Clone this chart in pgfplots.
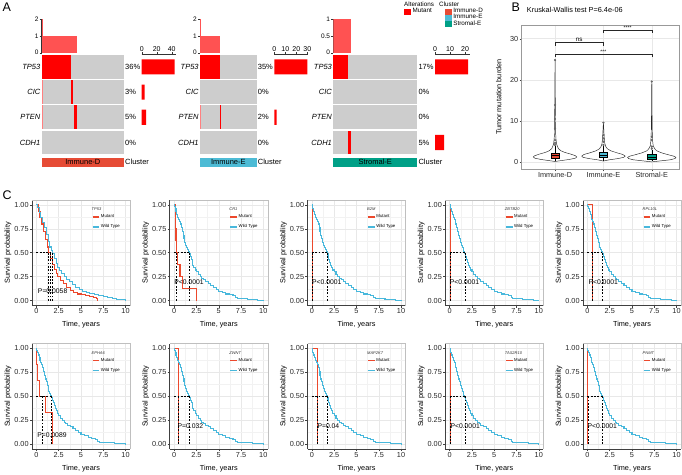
\documentclass[border=0pt]{standalone}
\usepackage{fontspec}
\setmainfont{Liberation Sans}
\usepackage{pgfplots}
\usepackage{pgfplotstable}
\pgfplotsset{compat=1.18}
\usepgfplotslibrary{statistics}
\definecolor{kmred}{RGB}{236,72,44}
\definecolor{kmblue}{RGB}{72,184,220}
\definecolor{cD}{HTML}{E64B35}
\definecolor{cE}{HTML}{4DBBD5}
\definecolor{cS}{HTML}{00A087}
\definecolor{hgray}{HTML}{CDCDCD}
\definecolor{mred}{HTML}{FF0000}
\newcommand{\fs}[1]{\fontsize{#1}{#1}\selectfont}

\pgfplotstableread{
t s
0 1
0.05 0.98
0.1 0.96
0.2 0.93
0.3 0.90
0.4 0.87
0.5 0.85
0.6 0.83
0.7 0.80
0.8 0.76
0.9 0.72
1.0 0.68
1.1 0.65
1.2 0.61
1.3 0.58
1.4 0.55
1.5 0.53
1.6 0.51
1.7 0.49
1.8 0.46
1.9 0.43
2.0 0.40
2.1 0.37
2.2 0.35
2.35 0.32
2.5 0.30
2.7 0.27
2.9 0.25
3.1 0.23
3.3 0.22
3.5 0.20
3.8 0.18
4.1 0.16
4.4 0.14
4.7 0.12
5.0 0.10
5.4 0.09
5.8 0.07
6.2 0.06
6.6 0.05
6.9 0.03
7.1 0.02
7.6 0.02
8.2 0.015
8.8 0.01
9.4 0.005
10.0 0.0
}\blueall

\pgfplotstableread{
t s
0 1
0.1 0.97
0.3 0.92
0.5 0.87
0.7 0.82
0.9 0.76
1.1 0.69
1.3 0.62
1.5 0.56
1.7 0.52
1.8 0.49
2.0 0.44
2.2 0.39
2.4 0.35
2.6 0.31
2.8 0.28
3.1 0.25
3.4 0.22
3.7 0.20
4.0 0.17
4.4 0.14
4.8 0.12
5.2 0.10
5.6 0.09
6.0 0.08
6.5 0.06
7.0 0.05
7.5 0.04
8.0 0.03
8.5 0.02
9.0 0.015
9.5 0.01
10 0
}\bluetp

\pgfplotsset{
 every axis/.append style={/pgf/number format/assume math mode=true},
 km/.style={scale only axis, width=98pt, height=105.5pt, anchor=south west,
  xmin=-0.5, xmax=10.5, ymin=-0.05, ymax=1.05,
  xtick={0,2.5,5,7.5,10}, xticklabels={0,2.5,5,7.5,10},
  ytick={0,0.25,0.5,0.75,1}, yticklabels={0.00,0.25,0.50,0.75,1.00},
  minor xtick={1.25,3.75,6.25,8.75}, minor ytick={0.125,0.375,0.625,0.875},
  grid=both, major grid style={black!9, line width=0.5pt}, minor grid style={black!5, line width=0.35pt},
  axis x line*=bottom, axis y line*=left, axis line style={black!75, line width=0.6pt},
  tick style={black!75, line width=0.5pt}, tick align=outside, major tick length=2.2pt, minor tick length=0pt,
  tick label style={font=\fs{7.3}, text=black!85, inner sep=1pt},
  xlabel={Time, years}, ylabel={Survival probability},
  label style={font=\fs{7.3}},
  xlabel style={at={(axis description cs:0.5,-0.185)}, anchor=center},
  ylabel style={at={(axis description cs:-0.245,0.5)}, anchor=center},
  legend image code/.code={\draw[#1, line width=1.4pt] (0pt,0pt) -- (6.8pt,0pt);},
  legend style={at={(0.61,0.87)}, anchor=north west, draw=none, fill=none, font=\fs{4.3}, inner sep=0pt, row sep=3.8pt, nodes={inner sep=0.8pt}},
  legend cell align=left,
  clip=false,
  after end axis/.code={\draw[black!25, line width=0.4pt] (rel axis cs:0,1) -- (rel axis cs:1,1) -- (rel axis cs:1,0);}
 },
 med/.style={forget plot, black, line width=0.55pt, dash pattern=on 1.8pt off 1.5pt},
 hm/.style={scale only axis, height=112.4pt, ymin=-0.46, ymax=4, xmin=0, anchor=south west,
  axis x line=none, axis y line*=left, y axis line style={draw=none}, major tick length=0pt,
  ytick={0.5,1.5,2.5,3.5}, yticklabels={CDH1,PTEN,CIC,TP53},
  yticklabel style={font=\fs{7.5}\itshape, inner sep=1.2pt}, clip=false},
 topbar/.style={scale only axis, height=33.7pt, ymin=0, xmin=0, anchor=south west,
  axis x line=none, axis y line*=left, y axis line style={black!80, line width=0.5pt},
  ytick style={black!80}, tick align=outside, major tick length=2pt,
  yticklabel style={font=\fs{6.5}, inner sep=1pt}},
 rbar/.style={scale only axis, height=112.4pt, width=34.5pt, ymin=-0.46, ymax=4, xmin=0, anchor=south west,
  axis y line=none, axis x line*=top, x axis line style={black!80, line width=0.5pt},
  xtick style={black!80}, tick align=outside, major tick length=2pt,
  xticklabel style={font=\fs{7}, inner sep=1pt}},
}

% #1 x, #2 y, #3 gene, #4 red coords, #5 blue table, #6 median lines, #7 px, #8 py, #9 ptext
\newcommand{\kmpanel}[9]{%
\begin{axis}[km, at={(#1pt,#2pt)}]
\addplot[const plot, kmred, line width=1.05pt] coordinates {#4};
\addlegendentry{Mutant}
\addplot[const plot, kmblue, line width=1.05pt] table[x=t,y=s] {#5};
\addlegendentry{Wild Type}
#6
\node[anchor=west, font=\fs{6.8}, inner sep=0pt] at (axis cs:#7,#8) {#9};
\node[anchor=base west, font=\fs{4}\itshape, inner sep=0pt, text=black!80] at (rel axis cs:0.607,0.9) {#3};
\end{axis}}

\begin{document}
\begin{tikzpicture}
\path[use as bounding box] (0,0) rectangle (682pt,474pt);

\node[anchor=base west, font=\fs{12.5}, inner sep=0] at (2.5pt,462.3pt) {A};
\node[anchor=base west, font=\fs{12.5}, inner sep=0] at (511.5pt,462.3pt) {B};
\node[anchor=base west, font=\fs{12.5}, inner sep=0] at (2.5pt,274pt) {C};

%================ Panel A : oncoplot 1 =================
\begin{axis}[topbar, width=82.3pt, at={(41.7pt,421.3pt)}, xmax=122, ymax=2, ytick={0,1,2}]
\addplot[fill=red!68, draw=none] coordinates {(0,0)(52.5,0)(52.5,1)(0,1)};
\addplot[fill=red!68, draw=none] coordinates {(0,0)(1,0)(1,2)(0,2)};
\end{axis}
\begin{axis}[hm, width=82.3pt, at={(41.7pt,307.3pt)}, xmax=122]
\addplot[fill=hgray, draw=none] coordinates {(0,3.025)(122,3.025)(122,3.975)(0,3.975)};
\addplot[fill=hgray, draw=none] coordinates {(0,2.025)(122,2.025)(122,2.975)(0,2.975)};
\addplot[fill=hgray, draw=none] coordinates {(0,1.025)(122,1.025)(122,1.975)(0,1.975)};
\addplot[fill=hgray, draw=none] coordinates {(0,0.025)(122,0.025)(122,0.975)(0,0.975)};
\addplot[fill=mred, draw=none] coordinates {(0,3.025)(44,3.025)(44,3.975)(0,3.975)};
\addplot[fill=mred, draw=none] coordinates {(44,2.025)(47,2.025)(47,2.975)(44,2.975)};
\addplot[fill=red!50, draw=none] coordinates {(0,2.025)(1,2.025)(1,2.975)(0,2.975)};
\addplot[fill=mred, draw=none] coordinates {(47.5,1.025)(52.5,1.025)(52.5,1.975)(47.5,1.975)};
\addplot[fill=red!50, draw=none] coordinates {(0,1.025)(1,1.025)(1,1.975)(0,1.975)};
\addplot[fill=cD, draw=none] coordinates {(0,-0.46)(122,-0.46)(122,-0.11)(0,-0.11)};
\node[font=\fs{7.5}, inner sep=0] at (axis cs:61,-0.285) {Immune-D};
\node[anchor=west, font=\fs{7.5}, inner sep=1pt] at (axis cs:122,-0.285) {Cluster};
\node[anchor=west, font=\fs{7.5}, inner sep=1pt] at (axis cs:122,3.5) {36\%};
\node[anchor=west, font=\fs{7.5}, inner sep=1pt] at (axis cs:122,2.5) {3\%};
\node[anchor=west, font=\fs{7.5}, inner sep=1pt] at (axis cs:122,1.5) {5\%};
\node[anchor=west, font=\fs{7.5}, inner sep=1pt] at (axis cs:122,0.5) {0\%};
\end{axis}
\begin{axis}[rbar, at={(141.7pt,307.3pt)}, xmax=46, xtick={0,20,40}]
\addplot[xbar, fill=mred, draw=none, bar width=0.6] coordinates {(44,3.5) (4,2.5) (6,1.5)};
\end{axis}

%================ oncoplot 2 =================
\begin{axis}[topbar, width=56.7pt, at={(200pt,421.3pt)}, xmax=86, ymax=2, ytick={0,1,2}]
\addplot[fill=red!68, draw=none] coordinates {(0,0)(31,0)(31,1)(0,1)};
\addplot[fill=red!68, draw=none] coordinates {(0,0)(1,0)(1,2)(0,2)};
\end{axis}
\begin{axis}[hm, width=56.7pt, at={(200pt,307.3pt)}, xmax=86]
\addplot[fill=hgray, draw=none] coordinates {(0,3.025)(86,3.025)(86,3.975)(0,3.975)};
\addplot[fill=hgray, draw=none] coordinates {(0,2.025)(86,2.025)(86,2.975)(0,2.975)};
\addplot[fill=hgray, draw=none] coordinates {(0,1.025)(86,1.025)(86,1.975)(0,1.975)};
\addplot[fill=hgray, draw=none] coordinates {(0,0.025)(86,0.025)(86,0.975)(0,0.975)};
\addplot[fill=mred, draw=none] coordinates {(0,3.025)(30,3.025)(30,3.975)(0,3.975)};
\addplot[fill=mred, draw=none] coordinates {(30,1.025)(31,1.025)(31,1.975)(30,1.975)};
\addplot[fill=red!50, draw=none] coordinates {(0,1.025)(1,1.025)(1,1.975)(0,1.975)};
\addplot[fill=cE, draw=none] coordinates {(0,-0.46)(86,-0.46)(86,-0.11)(0,-0.11)};
\node[font=\fs{7.5}, inner sep=0] at (axis cs:43,-0.285) {Immune-E};
\node[anchor=west, font=\fs{7.5}, inner sep=1pt] at (axis cs:86,-0.285) {Cluster};
\node[anchor=west, font=\fs{7.5}, inner sep=1pt] at (axis cs:86,3.5) {35\%};
\node[anchor=west, font=\fs{7.5}, inner sep=1pt] at (axis cs:86,2.5) {0\%};
\node[anchor=west, font=\fs{7.5}, inner sep=1pt] at (axis cs:86,1.5) {2\%};
\node[anchor=west, font=\fs{7.5}, inner sep=1pt] at (axis cs:86,0.5) {0\%};
\end{axis}
\begin{axis}[rbar, width=34.1pt, at={(274.3pt,307.3pt)}, xmax=31, xtick={0,10,20,30}]
\addplot[xbar, fill=mred, draw=none, bar width=0.6] coordinates {(30,3.5) (2,1.5)};
\end{axis}

%================ oncoplot 3 =================
\begin{axis}[topbar, width=84pt, at={(333.3pt,421.3pt)}, xmax=130, ymax=1, ytick={0,0.5,1}, yticklabels={0,0.5,1}]
\addplot[fill=red!68, draw=none] coordinates {(0,0)(28,0)(28,1)(0,1)};
\end{axis}
\begin{axis}[hm, width=84pt, at={(333.3pt,307.3pt)}, xmax=130]
\addplot[fill=hgray, draw=none] coordinates {(0,3.025)(130,3.025)(130,3.975)(0,3.975)};
\addplot[fill=hgray, draw=none] coordinates {(0,2.025)(130,2.025)(130,2.975)(0,2.975)};
\addplot[fill=hgray, draw=none] coordinates {(0,1.025)(130,1.025)(130,1.975)(0,1.975)};
\addplot[fill=hgray, draw=none] coordinates {(0,0.025)(130,0.025)(130,0.975)(0,0.975)};
\addplot[fill=mred, draw=none] coordinates {(0,3.025)(22,3.025)(22,3.975)(0,3.975)};
\addplot[fill=mred, draw=none] coordinates {(22,0.025)(28,0.025)(28,0.975)(22,0.975)};
\addplot[fill=cS, draw=none] coordinates {(0,-0.46)(130,-0.46)(130,-0.11)(0,-0.11)};
\node[font=\fs{7.5}, inner sep=0] at (axis cs:65,-0.285) {Stromal-E};
\node[anchor=west, font=\fs{7.5}, inner sep=1pt] at (axis cs:130,-0.285) {Cluster};
\node[anchor=west, font=\fs{7.5}, inner sep=1pt] at (axis cs:130,3.5) {17\%};
\node[anchor=west, font=\fs{7.5}, inner sep=1pt] at (axis cs:130,2.5) {0\%};
\node[anchor=west, font=\fs{7.5}, inner sep=1pt] at (axis cs:130,1.5) {0\%};
\node[anchor=west, font=\fs{7.5}, inner sep=1pt] at (axis cs:130,0.5) {5\%};
\end{axis}
\begin{axis}[rbar, at={(435pt,307.3pt)}, xmax=23, xtick={0,10,20}]
\addplot[xbar, fill=mred, draw=none, bar width=0.6] coordinates {(22,3.5) (6,0.5)};
\end{axis}

% legends of A
\node[anchor=west, font=\fs{6.3}, inner sep=0] at (404pt,470pt) {Alterations};
\begin{axis}[hide axis, scale only axis, width=1pt, height=1pt, at={(404pt,466pt)}, anchor=north west,
  xmin=0,xmax=1,ymin=0,ymax=1,
  legend style={at={(0,1)}, anchor=north west, draw=none, fill=none, font=\fs{6.3}, inner sep=0pt, nodes={inner sep=0.3pt}, row sep=0.3pt},
  legend cell align=left]
\addlegendimage{legend image code/.code={\fill[mred] (0pt,-2.6pt) rectangle (6pt,2.6pt); \path (7.6pt,0pt);}}
\addlegendentry{Mutant}
\end{axis}
\node[anchor=west, font=\fs{6.3}, inner sep=0] at (439pt,470pt) {Cluster};
\begin{axis}[hide axis, scale only axis, width=1pt, height=1pt, at={(445pt,466pt)}, anchor=north west,
  xmin=0,xmax=1,ymin=0,ymax=1,
  legend style={at={(0,1)}, anchor=north west, draw=none, fill=none, font=\fs{6.3}, inner sep=0pt, nodes={inner sep=0.2pt}, row sep=0pt},
  legend cell align=left]
\addlegendimage{legend image code/.code={\fill[cD] (0pt,-2.5pt) rectangle (6pt,2.5pt); \path (7.6pt,0pt);}}
\addlegendentry{Immune-D}
\addlegendimage{legend image code/.code={\fill[cE] (0pt,-2.5pt) rectangle (6pt,2.5pt); \path (7.6pt,0pt);}}
\addlegendentry{Immune-E}
\addlegendimage{legend image code/.code={\fill[cS] (0pt,-2.5pt) rectangle (6pt,2.5pt); \path (7.6pt,0pt);}}
\addlegendentry{Stromal-E}
\end{axis}

%================ Panel B =================
\begin{axis}[scale only axis, width=157.6pt, height=144.3pt, at={(521.7pt,304.7pt)}, anchor=south west,
  xmin=0.31, xmax=3.57, ymin=-1.7, ymax=33.3,
  boxplot/draw direction=y,
  xtick={1,2,3}, xticklabels={Immune-D,Immune-E,Stromal-E}, ytick={0,10,20,30},
  grid=major, major grid style={black!9, line width=0.5pt},
  axis line style={black!40, line width=0.5pt}, tick pos=left, tick align=outside, major tick length=2.2pt,
  tick style={black!75},
  tick label style={font=\fs{7.3}, text=black!85, inner sep=1pt},
  ylabel={Tumor mutation burden}, ylabel style={at={(axis description cs:-0.146,0.5)}, anchor=center, font=\fs{7.3}},
  title={Kruskal-Wallis test P=6.4e-06}, title style={at={(axis description cs:0.032,1.064)}, anchor=west, font=\fs{7.3}, inner sep=0pt},
  clip=false]
\addplot[draw=black!85, fill=white, line width=0.45pt] coordinates {(1,0.2)(1.12,0.4)(1.3,0.7)(1.42,1.0)(1.45,1.3)(1.42,1.6)(1.32,2.0)(1.2,2.4)(1.12,2.8)(1.07,3.3)(1.05,3.8)(1.03,4.5)(1.02,5.5)(1.012,7)(1.01,9)(1.008,12)(1.004,16)(1.003,20)(1,24.8)(0.997,20)(0.996,16)(0.992,12)(0.99,9)(0.988,7)(0.98,5.5)(0.97,4.5)(0.95,3.8)(0.93,3.3)(0.88,2.8)(0.8,2.4)(0.68,2.0)(0.58,1.6)(0.55,1.3)(0.58,1.0)(0.7,0.7)(0.88,0.4)(1,0.2)};
\addplot[draw=black!85, fill=white, line width=0.45pt] coordinates {(2,0.3)(2.12,0.6)(2.3,0.9)(2.42,1.2)(2.45,1.5)(2.4,1.9)(2.28,2.3)(2.15,2.8)(2.08,3.3)(2.05,3.8)(2.03,4.5)(2.02,5.5)(2.012,7)(2.006,8.5)(2,9.6)(1.994,8.5)(1.988,7)(1.98,5.5)(1.97,4.5)(1.95,3.8)(1.92,3.3)(1.85,2.8)(1.72,2.3)(1.6,1.9)(1.55,1.5)(1.58,1.2)(1.7,0.9)(1.88,0.6)(2,0.3)};
\addplot[draw=black!85, fill=white, line width=0.45pt] coordinates {(3,0.1)(3.15,0.3)(3.38,0.6)(3.48,0.9)(3.5,1.2)(3.45,1.5)(3.32,1.9)(3.2,2.3)(3.1,2.8)(3.06,3.3)(3.03,4)(3.02,5)(3.012,6.5)(3.008,9)(3.005,12)(3.003,16)(3,19.6)(2.997,16)(2.995,12)(2.992,9)(2.988,6.5)(2.98,5)(2.97,4)(2.94,3.3)(2.9,2.8)(2.8,2.3)(2.68,1.9)(2.55,1.5)(2.5,1.2)(2.52,0.9)(2.62,0.6)(2.85,0.3)(3,0.1)};
\addplot[boxplot prepared={lower whisker=0.3, lower quartile=1.0, median=1.6, upper quartile=2.2, upper whisker=3.9, draw position=1, box extend=0.17, whisker extend=0}, fill=cD, draw=black, line width=0.45pt, solid] coordinates {};
\addplot[boxplot prepared={lower whisker=0.4, lower quartile=1.2, median=1.75, upper quartile=2.35, upper whisker=4.0, draw position=2, box extend=0.17, whisker extend=0}, fill=cE, draw=black, line width=0.45pt, solid] coordinates {};
\addplot[boxplot prepared={lower whisker=0.2, lower quartile=0.8, median=1.3, upper quartile=1.85, upper whisker=3.0, draw position=3, box extend=0.17, whisker extend=0}, fill=cS, draw=black, line width=0.45pt, solid] coordinates {};
\addplot[only marks, mark=*, mark size=0.9pt, black!60] coordinates {(1,24.8)(1,13.9)(1,10.5)(1,8.2)(1,5.4)(1,4.7)(1,4.2)(2,9.6)(2,6.6)(2,5.8)(2,5.0)(2,4.2)(3,19.6)(3,6.2)(3,5.4)(3,3.8)(3,3.3)};
\addplot[black!85, line width=0.4pt] coordinates {(1,28.3)(1,29.1)(2,29.1)(2,28.3)};
\addplot[black!85, line width=0.4pt] coordinates {(2,31.3)(2,32.1)(3,32.1)(3,31.3)};
\addplot[black!85, line width=0.4pt] coordinates {(1,25.6)(1,26.3)(3,26.3)(3,25.6)};
\node[anchor=south, font=\fs{6.3}, inner sep=0.8pt] at (axis cs:1.5,29.1) {ns};
\node[anchor=south, font=\fs{5}, inner sep=0.5pt] at (axis cs:2.5,32.1) {****};
\node[anchor=south, font=\fs{5}, inner sep=0.5pt] at (axis cs:2,26.3) {***};
\end{axis}

%================ Panel C : row 1 =================
\kmpanel{32}{168.5}{TP53}{(0,1)(0.2,0.93)(0.4,0.87)(0.6,0.80)(0.8,0.72)(1.0,0.64)(1.2,0.56)(1.35,0.50)(1.6,0.44)(1.8,0.38)(2.0,0.33)(2.2,0.28)(2.4,0.25)(2.7,0.21)(3.0,0.18)(3.4,0.14)(3.8,0.11)(4.2,0.09)(4.6,0.07)(5.0,0.06)(5.5,0.05)(6.0,0.04)(6.4,0.03)(6.7,0.02)(6.9,0.0)}{\bluetp}
{\addplot[med] coordinates {(0,0.5)(1.8,0.5)};
 \addplot[med] coordinates {(1.35,0)(1.35,0.5)};
 \addplot[med] coordinates {(1.6,0)(1.6,0.5)};
 \addplot[med] coordinates {(1.8,0)(1.8,0.5)};}
{0.15}{0.095}{P=0.0058}

\kmpanel{169.75}{168.5}{CR1}{(0,1)(0.1,0.875)(0.15,0.75)(0.2,0.625)(0.28,0.5)(0.4,0.375)(0.65,0.25)(0.95,0.125)(2.5,0)}{\blueall}
{\addplot[med] coordinates {(0,0.5)(1.7,0.5)};
 \addplot[med] coordinates {(0.28,0)(0.28,0.5)};
 \addplot[med] coordinates {(1.7,0)(1.7,0.5)};}
{0}{0.19}{P<0.0001}

\kmpanel{307.5}{168.5}{B2M}{(0,1)(0.05,0)}{\blueall}
{\addplot[med] coordinates {(0,0.5)(1.7,0.5)};
 \addplot[med] coordinates {(0.05,0)(0.05,0.5)};
 \addplot[med] coordinates {(1.7,0)(1.7,0.5)};}
{0}{0.19}{P<0.0001}

\kmpanel{445.25}{168.5}{ZBTB20}{(0,1)(0.07,0)}{\blueall}
{\addplot[med] coordinates {(0,0.5)(1.7,0.5)};
 \addplot[med] coordinates {(0.07,0)(0.07,0.5)};
 \addplot[med] coordinates {(1.7,0)(1.7,0.5)};}
{0}{0.19}{P<0.0001}

\kmpanel{583}{168.5}{RPL10L}{(0,1)(0.55,0)}{\blueall}
{\addplot[med] coordinates {(0,0.5)(1.7,0.5)};
 \addplot[med] coordinates {(0.55,0)(0.55,0.5)};
 \addplot[med] coordinates {(1.7,0)(1.7,0.5)};}
{0.1}{0.19}{P<0.0001}

%================ Panel C : row 2 =================
\kmpanel{32}{25}{EPHA6}{(0,1)(0.02,0.917)(0.05,0.833)(0.15,0.667)(0.3,0.5)(1.0,0.333)(1.75,0)}{\blueall}
{\addplot[med] coordinates {(0,0.5)(1.66,0.5)};
 \addplot[med] coordinates {(0.64,0)(0.64,0.5)};
 \addplot[med] coordinates {(1.66,0)(1.66,0.5)};}
{0.07}{0.097}{P=0.0089}

\kmpanel{169.75}{25}{ZWNT}{(0,1)(0.5,0)}{\blueall}
{\addplot[med] coordinates {(0,0.5)(1.7,0.5)};
 \addplot[med] coordinates {(0.5,0)(0.5,0.5)};
 \addplot[med] coordinates {(1.7,0)(1.7,0.5)};}
{0.37}{0.19}{P=0.032}

\kmpanel{307.5}{25}{MAP2K7}{(0,1)(0.62,0)}{\blueall}
{\addplot[med] coordinates {(0,0.5)(1.7,0.5)};
 \addplot[med] coordinates {(0.62,0)(0.62,0.5)};
 \addplot[med] coordinates {(1.7,0)(1.7,0.5)};}
{0.6}{0.19}{P=0.04}

\kmpanel{445.25}{25}{TAS2R10}{(0,1)(0.08,0)}{\blueall}
{\addplot[med] coordinates {(0,0.5)(1.7,0.5)};
 \addplot[med] coordinates {(0.08,0)(0.08,0.5)};
 \addplot[med] coordinates {(1.7,0)(1.7,0.5)};}
{0.07}{0.19}{P<0.0001}

\kmpanel{583}{25}{PNMT}{(0,1)(0.04,0)}{\blueall}
{\addplot[med] coordinates {(0,0.5)(1.65,0.5)};
 \addplot[med] coordinates {(0.04,0)(0.04,0.5)};
 \addplot[med] coordinates {(1.65,0)(1.65,0.5)};}
{0}{0.19}{P<0.0001}

\end{tikzpicture}
\end{document}
